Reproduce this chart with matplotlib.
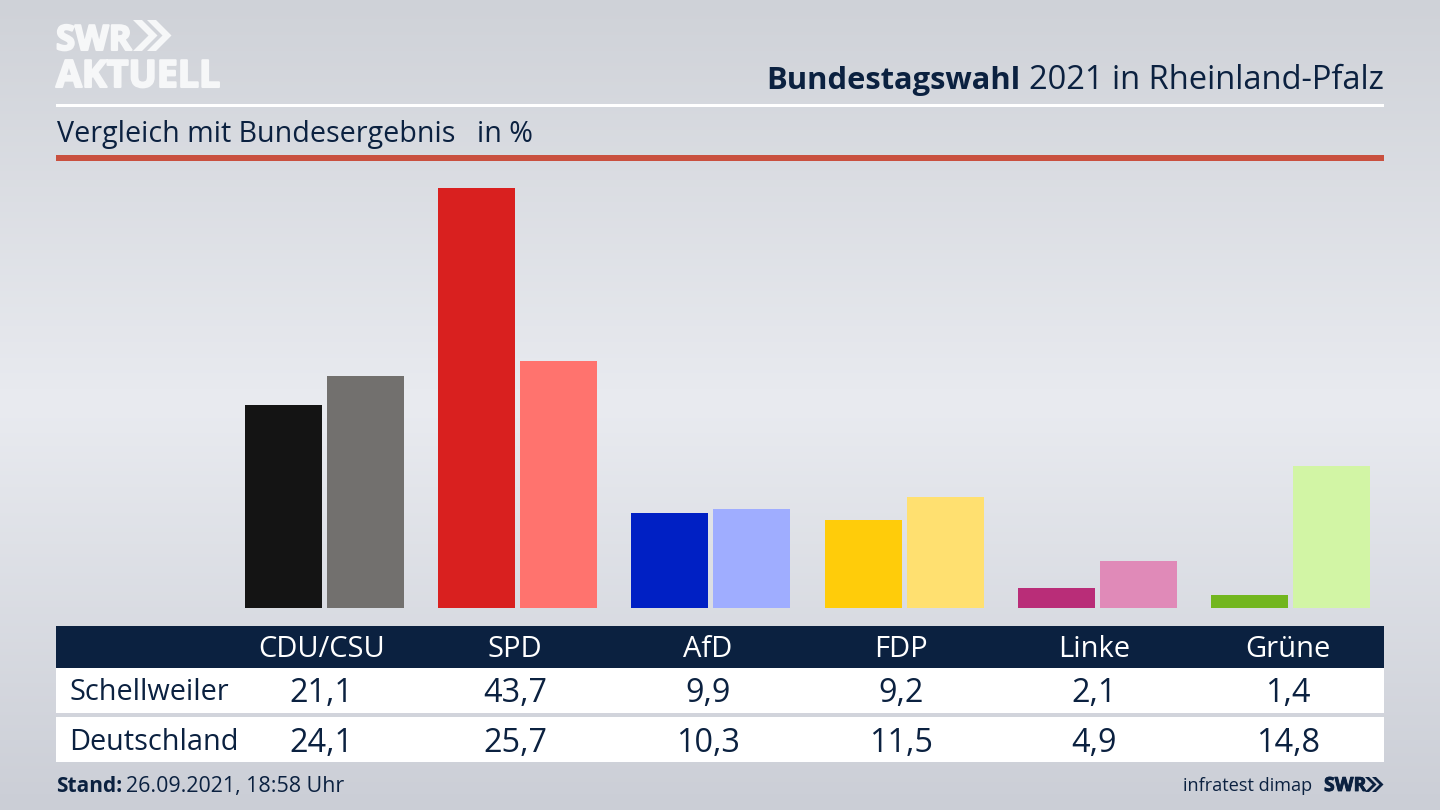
import numpy as np
import matplotlib
matplotlib.use("Agg")
import matplotlib.pyplot as plt
import matplotlib.patheffects as pe
from matplotlib.patches import Rectangle, Polygon
from matplotlib.colors import LinearSegmentedColormap

parties = ["CDU/CSU", "SPD", "AfD", "FDP", "Linke", "Grüne"]
schellweiler = [21.1, 43.7, 9.9, 9.2, 2.1, 1.4]
deutschland = [24.1, 25.7, 10.3, 11.5, 4.9, 14.8]
colors_local = ["#141414", "#d9201f", "#0020c4", "#ffcc0a", "#b92d78", "#72b61e"]
colors_national = ["#72706e", "#ff736e", "#9fadff", "#ffe070", "#e08ab8", "#d2f5a5"]
row_labels = ["Schellweiler", "Deutschland"]

NAVY = "#0b2140"
FONT = "Open Sans"
plt.rcParams["font.family"] = [FONT, "DejaVu Sans"]

W, H = 1440, 810
fig = plt.figure(figsize=(14.4, 8.1), dpi=100)

# page layer in pixel coordinates
page = fig.add_axes([0, 0, 1, 1], zorder=0)
page.set_xlim(0, W)
page.set_ylim(H, 0)
page.axis("off")
cmap = LinearSegmentedColormap.from_list(
    "bg", [(0, "#cfd2d8"), (0.5, "#e9ebf0"), (1, "#cbced6")])
page.imshow(np.linspace(0, 1, 256).reshape(-1, 1), cmap=cmap, aspect="auto",
            extent=(0, W, H, 0), zorder=0)


def rect(x0, y0, x1, y1, color, z=1):
    page.add_patch(Rectangle((x0, y0), x1 - x0, y1 - y0, fc=color, ec="none", zorder=z))


def chevrons(x, y, h, color, t, gap):
    for k in range(2):
        x0 = x + k * gap
        page.add_patch(Polygon(
            [(x0, y), (x0 + t, y), (x0 + t + h / 2, y + h / 2), (x0 + t, y + h),
             (x0, y + h), (x0 + h / 2, y + h / 2)], fc=color, ec="none", zorder=2))


heavy = [pe.withStroke(linewidth=1.5, foreground="#f6f7f8")]
heavy_navy = [pe.withStroke(linewidth=0.6, foreground=NAVY)]

# logo
page.text(56, 50, "SWR", fontsize=25, fontweight="bold", color="#f6f7f8",
          va="baseline", ha="left", path_effects=heavy)
chevrons(133, 20, 31, "#f6f7f8", 9, 14)
page.text(56, 87, "AKTUELL", fontsize=27, fontweight="bold", color="#f6f7f8",
          va="baseline", ha="left", path_effects=heavy)

# header
page.text(1384, 89, "2021 in Rheinland-Pfalz", fontsize=23.5, color=NAVY, ha="right", va="baseline")
page.text(1020, 89, "Bundestagswahl", fontsize=22.2, fontweight="bold", color=NAVY, ha="right", va="baseline")
rect(56, 104, 1384, 107, "white")
page.text(57, 142, "Vergleich mit Bundesergebnis", fontsize=20.6, color=NAVY, ha="left", va="baseline")
page.text(477, 142, "in %", fontsize=20.6, color=NAVY, ha="left", va="baseline")
rect(56, 155, 1384, 161, "#c9503f")

# bars, on their own data axes
STEP = 193.2
PX_PER_UNIT = 9.61
ax = fig.add_axes([228 / W, 1 - 608 / H, (STEP * 6) / W, 443 / H], zorder=1)
ax.patch.set_alpha(0)
ax.axis("off")
ax.set_xlim(-0.5, 5.5)
ax.set_ylim(0, 443 / PX_PER_UNIT)
x = np.arange(len(parties))
off = 41 / STEP
bw = 77 / STEP
ax.bar(x - off, schellweiler, width=bw, color=colors_local)
ax.bar(x + off, deutschland, width=bw, color=colors_national)

# table
rect(56, 626, 1384, 668, NAVY)
rect(56, 668, 1384, 713, "white")
rect(56, 717, 1384, 762, "white")
centers = [321.7 + STEP * i for i in range(6)]
for cx, p, a, b in zip(centers, parties, schellweiler, deutschland):
    page.text(cx, 657, p, fontsize=21, color="white", ha="center", va="baseline", zorder=3)
    page.text(cx, 702.5, f"{a:.1f}".replace(".", ","), fontsize=23.3, color=NAVY, ha="center", va="baseline", zorder=3)
    page.text(cx, 751.5, f"{b:.1f}".replace(".", ","), fontsize=23.3, color=NAVY, ha="center", va="baseline", zorder=3)
page.text(69.5, 700.5, row_labels[0], fontsize=20.8, color=NAVY, ha="left", va="baseline", zorder=3)
page.text(69.5, 749.5, row_labels[1], fontsize=20.8, color=NAVY, ha="left", va="baseline", zorder=3)

# footer
page.text(56, 792, "Stand:", fontsize=15, fontweight="bold", color=NAVY, ha="left", va="baseline")
page.text(126, 792, "26.09.2021, 18:58 Uhr", fontsize=15.4, color=NAVY, ha="left", va="baseline")
page.text(1312, 791, "infratest dimap", fontsize=13.1, color=NAVY, ha="right", va="baseline")
page.text(1324, 791, "SWR", fontsize=14, fontweight="bold", color=NAVY, ha="left", va="baseline",
          path_effects=heavy_navy)
chevrons(1365, 777, 15, NAVY, 4, 7)

fig.savefig("out.png", dpi=100)
